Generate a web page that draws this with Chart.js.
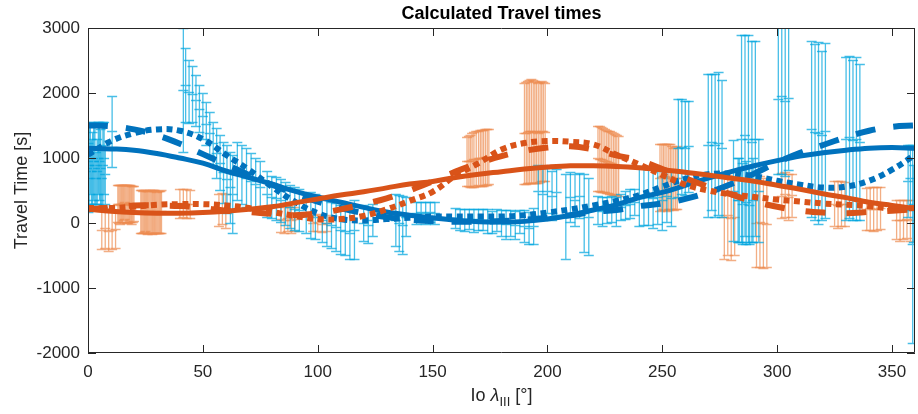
<!DOCTYPE html>
<html>
<head>
<meta charset="utf-8">
<title>Calculated Travel times</title>
<script src="https://cdn.jsdelivr.net/npm/chart.js@4.4.0/dist/chart.umd.min.js"></script>
<style>
  html, body { margin: 0; padding: 0; background: #fff; }
  #wrap { width: 918px; height: 414px; }
</style>
</head>
<body>
<div id="wrap"><canvas id="travel" width="918" height="414"></canvas></div>
<script>
// Io longitude samples for the fitted curves
const curveDeg = [0, 10, 20, 30, 40, 50, 60, 70, 80, 90, 100, 110, 120, 130, 140, 150, 160, 170, 180,
                  190, 200, 210, 220, 230, 240, 250, 260, 270, 280, 290, 300, 310, 320, 330, 340, 350, 360];

// fitted travel times [s]
const blueSolid    = [1150, 1140, 1120, 1070, 1000, 920, 800, 700, 600, 490, 400, 320, 240, 170, 120, 80, 45, 20, 15,
                      25, 60, 120, 200, 280, 390, 470, 580, 690, 790, 880, 960, 1030, 1080, 1120, 1150, 1160, 1150];
const blueDashed   = [1500, 1490, 1440, 1350, 1220, 1060, 900, 740, 590, 450, 330, 230, 150, 90, 50, 30, 20, 20, 30,
                      50, 80, 120, 170, 200, 260, 300, 370, 470, 600, 760, 930, 1080, 1200, 1320, 1420, 1480, 1500];
const blueDotted   = [1050, 1260, 1380, 1440, 1420, 1290, 1050, 820, 560, 330, 150, 60, 40, 60, 80, 100, 100, 100, 100,
                      120, 160, 210, 270, 340, 430, 560, 680, 750, 760, 720, 650, 590, 545, 560, 650, 820, 1050];
const orangeSolid  = [210, 180, 160, 150, 150, 160, 180, 210, 250, 310, 370, 430, 480, 540, 600, 640, 700, 750, 790,
                      830, 860, 880, 880, 870, 850, 820, 780, 740, 690, 640, 580, 520, 450, 390, 320, 270, 220];
const orangeDashed = [210, 240, 270, 270, 260, 230, 190, 170, 140, 120, 150, 210, 290, 380, 500, 640, 790, 920, 1030,
                      1110, 1160, 1180, 1130, 1040, 960, 830, 690, 560, 440, 330, 250, 190, 160, 150, 170, 190, 210];
const orangeDotted = [230, 230, 250, 280, 290, 290, 270, 230, 170, 110, 60, 60, 110, 210, 340, 480, 730, 920, 1130,
                      1230, 1260, 1250, 1210, 1050, 900, 740, 590, 500, 440, 400, 360, 330, 300, 280, 260, 220, 230];

// measured travel times with their uncertainties (centre, half-width)
const blueBarDeg = [0.2, 0.5, 1.5, 2.5, 3.5, 4.5, 5.5, 6.5, 7.5, 10.5,
  41.5, 42.5, 44, 45.5, 47, 48.5, 50, 51.5, 53, 54.5, 56, 57.5, 59, 60.5, 62, 63,
  65, 67, 69, 71, 73, 75, 78, 80, 82, 84, 86, 88, 90, 92, 95, 97, 99, 102, 104, 106, 108, 110, 112, 114, 116,
  120, 122, 124, 134, 135.5, 137, 138.5, 143, 145, 147, 149, 151,
  160, 162, 164, 166, 168, 170, 172, 174, 176, 178, 180, 182, 184, 186, 188, 190, 192, 194,
  196, 198, 200, 202, 204, 208, 210, 212, 214, 216, 218,
  222, 224, 226, 228, 230, 232, 234, 236, 238,
  240, 242, 244, 246, 248, 250, 252, 254,
  257, 258.5, 260, 261.5,
  270, 271.5, 273, 274.5, 276,
  281, 283, 283.5, 284.5, 285, 286, 286.5, 287.5, 288, 289, 289.5, 290.5, 292,
  300.5, 302, 303.5, 305,
  315, 316.5, 318, 319.5, 321,
  330, 331.5, 333, 334.5, 336,
  357, 358, 359, 359.5,
  1, 2, 3, 4, 5, 6, 7];
const blueBarTime = [700, 900, 800, 950, 700, 1000, 850, 900, 750, 1410,
  2050, 2120, 2020, 1990, 1890, 1760, 1650, 1530, 1380, 1230, 1080, 930, 780, 680, 550, 450,
  800, 750, 700, 650, 600, 550, 450, 400, 380, 350, 300, 250, 220, 200, 150, 120, 100, 50, 0, -30, -60, -100, -120, -150, -100,
  0, -30, 50, 50, 0, -30, 100, 150, 170, 150, 170, 150,
  80, 60, 50, 60, 40, 60, 50, 30, 20, 40, 0, -20, 0, -30, 20, -50, -80, -50,
  500, 450, 500, 420, 480, 100, 400, 350, 420, 150, 100,
  200, 180, 200, 220, 180, 250, 280, 300, 320,
  400, 420, 400, 380, 400, 350, 420, 380,
  1150, 1170, 1150, 1180,
  1200, 1250, 1200, 1230, 1150,
  500, 350, 350, 1300, 300, 1350, 320, 1300, 280, 1250, 350, 1300, 500,
  1900, 1950, 1880, 1920,
  1450, 1400, 1380, 1350, 1420,
  1300, 1320, 1280, 1300, 1250,
  650, 700, -325, 300,
  1000, 850, 900, 800, 950, 700, 1000];
const blueBarErr = [530, 600, 500, 600, 400, 550, 600, 650, 450, 550,
  950, 570, 480, 430, 390, 360, 350, 330, 330, 330, 380, 420, 470, 520, 550, 600,
  450, 450, 450, 420, 400, 400, 350, 330, 330, 330, 330, 330, 330, 330, 300, 350, 350, 350, 350, 350, 370, 380, 380, 400, 450,
  280, 280, 250, 400, 430, 450, 300, 170, 160, 170, 150, 170,
  150, 160, 170, 150, 180, 160, 160, 180, 170, 170, 200, 220, 200, 220, 180, 250, 250, 280,
  400, 400, 350, 380, 350, 650, 380, 400, 350, 600, 600,
  220, 220, 200, 200, 220, 200, 220, 220, 200,
  450, 450, 430, 450, 420, 450, 400, 430,
  750, 730, 720, 700,
  1100, 1050, 1100, 1100, 1050,
  780, 650, 650, 1600, 620, 1550, 640, 1600, 600, 1550, 650, 1500, 800,
  1150, 1200, 1150, 1100,
  1350, 1350, 1400, 1300, 1350,
  1250, 1250, 1230, 1250, 1200,
  550, 500, 1525, 600,
  550, 550, 600, 500, 600, 450, 550];

const orangeBarDeg = [6, 7.5, 9, 10.5, 12,
  13, 14, 15, 16, 17, 18, 19, 20,
  23, 24, 25, 26, 27, 28, 29, 30, 31, 32,
  40, 41.5, 43, 44.5,
  57, 58.5, 60,
  84, 85.5, 87, 88.5, 90, 98, 100, 102, 104,
  165, 166.5, 168, 170, 171.5, 173, 174.5,
  190, 191.5, 193, 194.5, 196, 197.5, 199,
  222, 223.5, 225, 226.5, 228, 229.5, 231,
  249, 250.5, 252, 253.5, 255, 256.5,
  277, 278.5, 280, 281.5, 291, 292.5, 294, 295.5,
  302, 303.5, 305, 306.5,
  325, 326.5, 328, 329.5,
  339, 340.5, 342, 343.5, 345,
  352, 353.5, 355, 356.5, 358,
  13.5, 14.5, 15.5, 16.5, 17.5, 18.5, 19.5,
  23.5, 24.5, 25.5, 26.5, 27.5, 28.5, 29.5, 30.5, 31.5,
  165.8, 167.2, 169, 170.8, 172.2, 173.8,
  190.8, 192.2, 193.8, 195.2, 196.8, 198.2,
  222.8, 224.2, 225.8, 227.2, 228.8, 230.2,
  249.8, 251.2, 252.8, 254.2, 255.8];
const orangeBarTime = [-100, -80, -120, -100, -90,
  300, 280, 300, 320, 290, 300, 280, 300,
  180, 170, 190, 160, 180, 170, 180, 160, 170, 180,
  300, 310, 300, 290,
  200, 220, 180,
  60, 50, 70, 40, 60, 0, 10, -10, 0,
  950, 960, 980, 1000, 1000, 1010, 1020,
  1380, 1400, 1420, 1400, 1390, 1420, 1400,
  1000, 980, 960, 940, 920, 900, 880,
  700, 720, 700, 720, 680, 700,
  100, 120, 80, 100, 0, 20, 0, -20,
  420, 440, 400, 430,
  300, 280, 300, 290,
  220, 230, 210, 220, 230,
  50, 40, 50, 60, 40,
  290, 300, 310, 300, 290, 300, 290,
  175, 180, 170, 170, 175, 175, 170, 165, 175,
  955, 970, 990, 1000, 1005, 1015,
  1390, 1410, 1410, 1395, 1405, 1410,
  990, 970, 950, 930, 910, 890,
  710, 710, 710, 700, 690];
const orangeBarErr = [300, 300, 310, 300, 290,
  280, 300, 280, 260, 290, 280, 290, 270,
  330, 330, 320, 330, 330, 340, 330, 320, 320, 330,
  220, 210, 220, 220,
  250, 240, 260,
  200, 200, 190, 200, 190, 130, 130, 130, 120,
  380, 400, 420, 420, 430, 430, 420,
  780, 790, 800, 780, 770, 770, 760,
  500, 500, 490, 480, 480, 470, 460,
  520, 500, 510, 500, 480, 480,
  650, 620, 650, 600, 680, 700, 690, 660,
  350, 340, 350, 330,
  350, 360, 350, 340,
  320, 330, 340, 330, 320,
  300, 310, 300, 290, 310,
  290, 280, 270, 280, 290, 280, 280,
  330, 325, 330, 330, 335, 335, 325, 320, 325,
  390, 410, 420, 425, 430, 425,
  785, 795, 790, 775, 770, 765,
  500, 495, 485, 480, 475, 465,
  510, 505, 505, 490, 480];

const xTicks = [0, 50, 100, 150, 200, 250, 300, 350];
const yTicks = [-2000, -1000, 0, 1000, 2000, 3000];

const BLUE = '#0072BD';
const ORANGE = '#D95319';
const INK = '#262626';
const FONT = '"Liberation Sans", Arial, Helvetica, sans-serif';

function toPoints(ys) {
  return curveDeg.map((d, i) => ({ x: d, y: ys[i] }));
}

function curve(label, ys, color, dash, width) {
  return {
    label: label,
    data: toPoints(ys),
    showLine: true,
    borderColor: color,
    borderWidth: width,
    borderDash: dash,
    borderCapStyle: 'butt',
    pointRadius: 0,
    tension: 0.4,
    fill: false
  };
}

function drawBars(ctx, xs, ys, degs, times, errs, color) {
  ctx.strokeStyle = color;
  ctx.lineWidth = 1.3;
  const cap = 5;
  for (let i = 0; i < degs.length; i++) {
    const px = xs.getPixelForValue(degs[i]);
    const top = Math.round(ys.getPixelForValue(times[i] + errs[i])) + 0.5;
    const bot = Math.round(ys.getPixelForValue(times[i] - errs[i])) + 0.5;
    const mid = Math.round(ys.getPixelForValue(times[i])) + 0.5;
    ctx.beginPath();
    ctx.moveTo(px, top); ctx.lineTo(px, bot);
    ctx.moveTo(px - cap, top); ctx.lineTo(px + cap, top);
    ctx.moveTo(px - cap, bot); ctx.lineTo(px + cap, bot);
    ctx.moveTo(px - cap, mid); ctx.lineTo(px + cap, mid);
    ctx.stroke();
  }
}

// error bars sit underneath the fitted curves
const errorBars = {
  id: 'errorBars',
  beforeDatasetsDraw(chart) {
    const { ctx, chartArea: a, scales } = chart;
    ctx.save();
    ctx.beginPath();
    ctx.rect(a.left, a.top, a.right - a.left, a.bottom - a.top);
    ctx.clip();
    drawBars(ctx, scales.x, scales.y, orangeBarDeg, orangeBarTime, orangeBarErr, 'rgba(236,140,80,0.7)');
    drawBars(ctx, scales.x, scales.y, blueBarDeg, blueBarTime, blueBarErr, 'rgba(0,165,222,0.72)');
    ctx.restore();
  }
};

// box, inward ticks, title and axis labels
const axesFrame = {
  id: 'axesFrame',
  afterDraw(chart) {
    const { ctx, chartArea: a, scales } = chart;
    const tl = 8;
    ctx.save();
    ctx.strokeStyle = INK;
    ctx.lineWidth = 1;
    ctx.beginPath();
    ctx.rect(a.left + 0.5, a.top + 0.5, a.right - a.left - 1, a.bottom - a.top - 1);
    xTicks.forEach(v => {
      const px = Math.round(scales.x.getPixelForValue(v)) + 0.5;
      ctx.moveTo(px, a.bottom); ctx.lineTo(px, a.bottom - tl);
      ctx.moveTo(px, a.top); ctx.lineTo(px, a.top + tl);
    });
    yTicks.forEach(v => {
      const py = Math.round(scales.y.getPixelForValue(v)) + 0.5;
      ctx.moveTo(a.left, py); ctx.lineTo(a.left + tl, py);
      ctx.moveTo(a.right, py); ctx.lineTo(a.right - tl, py);
    });
    ctx.stroke();

    const cx = (a.left + a.right) / 2;
    ctx.fillStyle = '#000';
    ctx.font = 'bold 18px ' + FONT;
    ctx.textAlign = 'center';
    ctx.textBaseline = 'middle';
    ctx.fillText('Calculated Travel times', cx, 14);

    ctx.fillStyle = INK;
    ctx.font = '18px ' + FONT;
    ctx.save();
    ctx.translate(22, (a.top + a.bottom) / 2);
    ctx.rotate(-Math.PI / 2);
    ctx.fillText('Travel Time [s]', 0, 0);
    ctx.restore();

    // Io λ_III [°]
    const base = 401;
    const partA = 'Io ';
    const partL = 'λ';
    const partS = 'III';
    const partB = ' [°]';
    ctx.textAlign = 'left';
    ctx.textBaseline = 'alphabetic';
    ctx.font = '18px ' + FONT;
    const wA = ctx.measureText(partA).width;
    const wB = ctx.measureText(partB).width;
    ctx.font = 'italic 18px ' + FONT;
    const wL = ctx.measureText(partL).width;
    ctx.font = '13px ' + FONT;
    const wS = ctx.measureText(partS).width;
    let x0 = cx - (wA + wL + wS + wB) / 2;
    ctx.font = '18px ' + FONT;
    ctx.fillText(partA, x0, base); x0 += wA;
    ctx.font = 'italic 18px ' + FONT;
    ctx.fillText(partL, x0, base); x0 += wL;
    ctx.font = '13px ' + FONT;
    ctx.fillText(partS, x0, base + 5); x0 += wS;
    ctx.font = '18px ' + FONT;
    ctx.fillText(partB, x0, base);
    ctx.restore();
  }
};

new Chart(document.getElementById('travel'), {
  type: 'scatter',
  data: {
    datasets: [
      curve('fit orange', orangeSolid, ORANGE, [], 5),
      curve('fit orange dashed', orangeDashed, ORANGE, [20, 21], 6),
      curve('fit orange dotted', orangeDotted, ORANGE, [6, 4.5], 6),
      curve('fit blue', blueSolid, BLUE, [], 5),
      curve('fit blue dashed', blueDashed, BLUE, [20, 18], 6),
      curve('fit blue dotted', blueDotted, BLUE, [6, 4.5], 6)
    ]
  },
  options: {
    responsive: false,
    animation: false,
    devicePixelRatio: 1,
    layout: { padding: { top: 28, right: 3, left: 0, bottom: 0 } },
    plugins: {
      legend: { display: false },
      tooltip: { enabled: false },
      title: { display: false }
    },
    scales: {
      x: {
        type: 'linear',
        min: 0,
        max: 360,
        afterBuildTicks: s => { s.ticks = xTicks.map(v => ({ value: v })); },
        afterFit: s => { s.height = 61; },
        grid: { display: false, drawTicks: false },
        border: { display: false },
        ticks: { color: INK, font: { size: 17, family: FONT }, padding: 9, maxRotation: 0,
                 callback: v => String(v) }
      },
      y: {
        min: -2000,
        max: 3000,
        afterBuildTicks: s => { s.ticks = yTicks.map(v => ({ value: v })); },
        afterFit: s => { s.width = 88; },
        grid: { display: false, drawTicks: false },
        border: { display: false },
        ticks: { color: INK, font: { size: 17, family: FONT }, padding: 8,
                 callback: v => String(v) }
      }
    }
  },
  plugins: [errorBars, axesFrame]
});
</script>
</body>
</html>
